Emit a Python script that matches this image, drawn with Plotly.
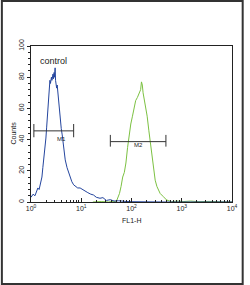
import plotly.graph_objects as go

# ---- data ----
blue_x = [1.00, 1.1, 1.2, 1.3, 1.37, 1.45, 1.52, 1.58, 1.65, 1.72, 1.78, 1.85, 1.92, 1.98, 2.05,
          2.14, 2.22, 2.31, 2.38, 2.44, 2.48, 2.55, 2.61, 2.67, 2.74, 2.80, 2.88, 2.94, 3.02, 3.08,
          3.14, 3.24, 3.32, 3.40, 3.45, 3.52, 3.61, 3.72, 3.87, 4.0, 4.18, 4.35, 4.51, 4.8, 5.22,
          5.6, 6.05, 6.5, 7.06, 7.8, 8.5, 9.48, 10.5, 11.9, 13.5, 15.5, 17.5, 20, 23.6, 27, 31.6,
          38, 45, 55, 63, 80, 100, 130, 158, 200, 300, 500, 1000, 2000, 5000, 10000]
blue_y = [3, 5, 4, 7, 9, 8, 11, 13, 16, 22, 26, 30, 36, 41, 48,
          56, 64, 73, 78, 76, 77, 80, 78, 80, 82, 79, 83, 80, 86, 78,
          74, 73, 75, 71, 72, 68, 66, 60, 51, 47, 43, 38, 32, 27, 22,
          19, 15, 13, 11, 10, 9, 9, 8, 7, 6, 5, 4.5, 3, 2.4, 2.8, 1,
          1.5, 0.6, 0.8, 0.5, 0.3, 0.2, 0.1, 0, 0, 0, 0, 0, 0, 0, 0]

green_x = [17, 25, 35, 45, 49.5, 53, 57.7, 62, 66.8, 72, 77.4, 83.6, 90.2, 96.8, 104.5, 112.7,
           121, 131, 141, 152, 158, 164, 170, 177, 190, 205, 221, 237, 256, 276, 296, 320, 345,
           371, 431, 500, 625, 800, 1100, 1500, 2200, 3500, 6000, 10000]
green_y = [0, 0.3, 0, 0.5, 0, 2, 5.5, 10, 16, 19, 25, 35, 44, 50, 55, 61,
           65, 67, 70, 72, 77, 75, 70, 67, 61, 55, 46, 38, 29, 20.5, 14, 10, 7,
           5.5, 3.4, 1.3, 0.2, 0.6, 0.3, 0.6, 0.2, 0.4, 0.1, 0]

m1_x = [1.14, 7.06]
m1_y = 45.6
m1_cap = [41.5, 50.0]
m2_x = [37.9, 484.0]
m2_y = 38.7
m2_cap = [35.5, 43.0]

x_tickvals = [1, 10, 100, 1000, 10000]
x_ticktext = ["10<sup>0</sup>", "10<sup>1</sup>", "10<sup>2</sup>", "10<sup>3</sup>", "10<sup>4</sup>"]
y_tickvals = [0, 20, 40, 60, 80, 100]

BLUE = "#24459e"
GREEN = "#7cc142"
GATE = "#333333"
FONT = "Liberation Sans"

fig = go.Figure()
fig.add_trace(go.Scatter(x=green_x, y=green_y, mode="lines",
                         line=dict(color=GREEN, width=1), hoverinfo="skip"))
fig.add_trace(go.Scatter(x=blue_x, y=blue_y, mode="lines",
                         line=dict(color=BLUE, width=1), hoverinfo="skip"))

for gx, gy, cap in [(m1_x, m1_y, m1_cap), (m2_x, m2_y, m2_cap)]:
    fig.add_trace(go.Scatter(x=gx, y=[gy, gy], mode="lines",
                             line=dict(color=GATE, width=1), hoverinfo="skip"))
    for xv in gx:
        fig.add_trace(go.Scatter(x=[xv, xv], y=cap, mode="lines",
                                 line=dict(color=GATE, width=1), hoverinfo="skip"))

minor_x = [m * 10 ** d for d in range(4) for m in range(2, 10)]

fig.update_xaxes(type="log", range=[0, 4], tickvals=x_tickvals, ticktext=x_ticktext,
                 ticks="inside", ticklen=4, tickcolor="#222",
                 minor=dict(tickvals=minor_x, ticks="inside", ticklen=2, tickcolor="#222"),
                 showgrid=False, zeroline=False, showline=True, linecolor="#222",
                 linewidth=1, mirror=True,
                 tickfont=dict(family=FONT, size=7, color="#222"))
fig.update_yaxes(range=[0, 100], tickvals=y_tickvals, ticks="outside", ticklen=3,
                 tickcolor="#222", tickangle=-90,
                 minor=dict(dtick=4, ticks="outside", ticklen=2, tickcolor="#222"),
                 showgrid=False, zeroline=False, showline=True, linecolor="#222",
                 linewidth=1, mirror=True,
                 tickfont=dict(family=FONT, size=7, color="#222"))

W, H = 250, 285
L, R, T, B = 31, 12, 46, 83
pw, ph = W - L - R, H - T - B

def px(x):
    return (x - L) / pw

def py(y):
    return (H - B - y) / ph

fig.add_annotation(x=px(38), y=py(61), xref="paper", yref="paper", text="control",
                   showarrow=False, xanchor="left", yanchor="middle",
                   font=dict(family=FONT, size=9, color="#222"))
fig.add_annotation(x=px(12), y=py(133), xref="paper", yref="paper", text="Counts",
                   showarrow=False, textangle=-90, xanchor="center", yanchor="middle",
                   font=dict(family=FONT, size=7, color="#222"))
fig.add_annotation(x=px(134), y=py(220), xref="paper", yref="paper", text="FL1-H",
                   showarrow=False, xanchor="center", yanchor="middle",
                   font=dict(family=FONT, size=7, color="#222"))
fig.add_annotation(x=px(56), y=py(139), xref="paper", yref="paper", text="M1",
                   showarrow=False, font=dict(family=FONT, size=6, color="#222"))
fig.add_annotation(x=px(142), y=py(150), xref="paper", yref="paper", text="M2",
                   showarrow=False, font=dict(family=FONT, size=6, color="#222"))

# outer frame of the picture
fig.add_shape(type="rect", xref="paper", yref="paper",
              x0=px(1), x1=px(249), y0=py(284), y1=py(1),
              line=dict(color="#333", width=2), fillcolor="rgba(0,0,0,0)")

fig.update_layout(width=W, height=H, margin=dict(l=L, r=R, t=T, b=B),
                  paper_bgcolor="white", plot_bgcolor="white", showlegend=False)

fig.write_html("out.html")
